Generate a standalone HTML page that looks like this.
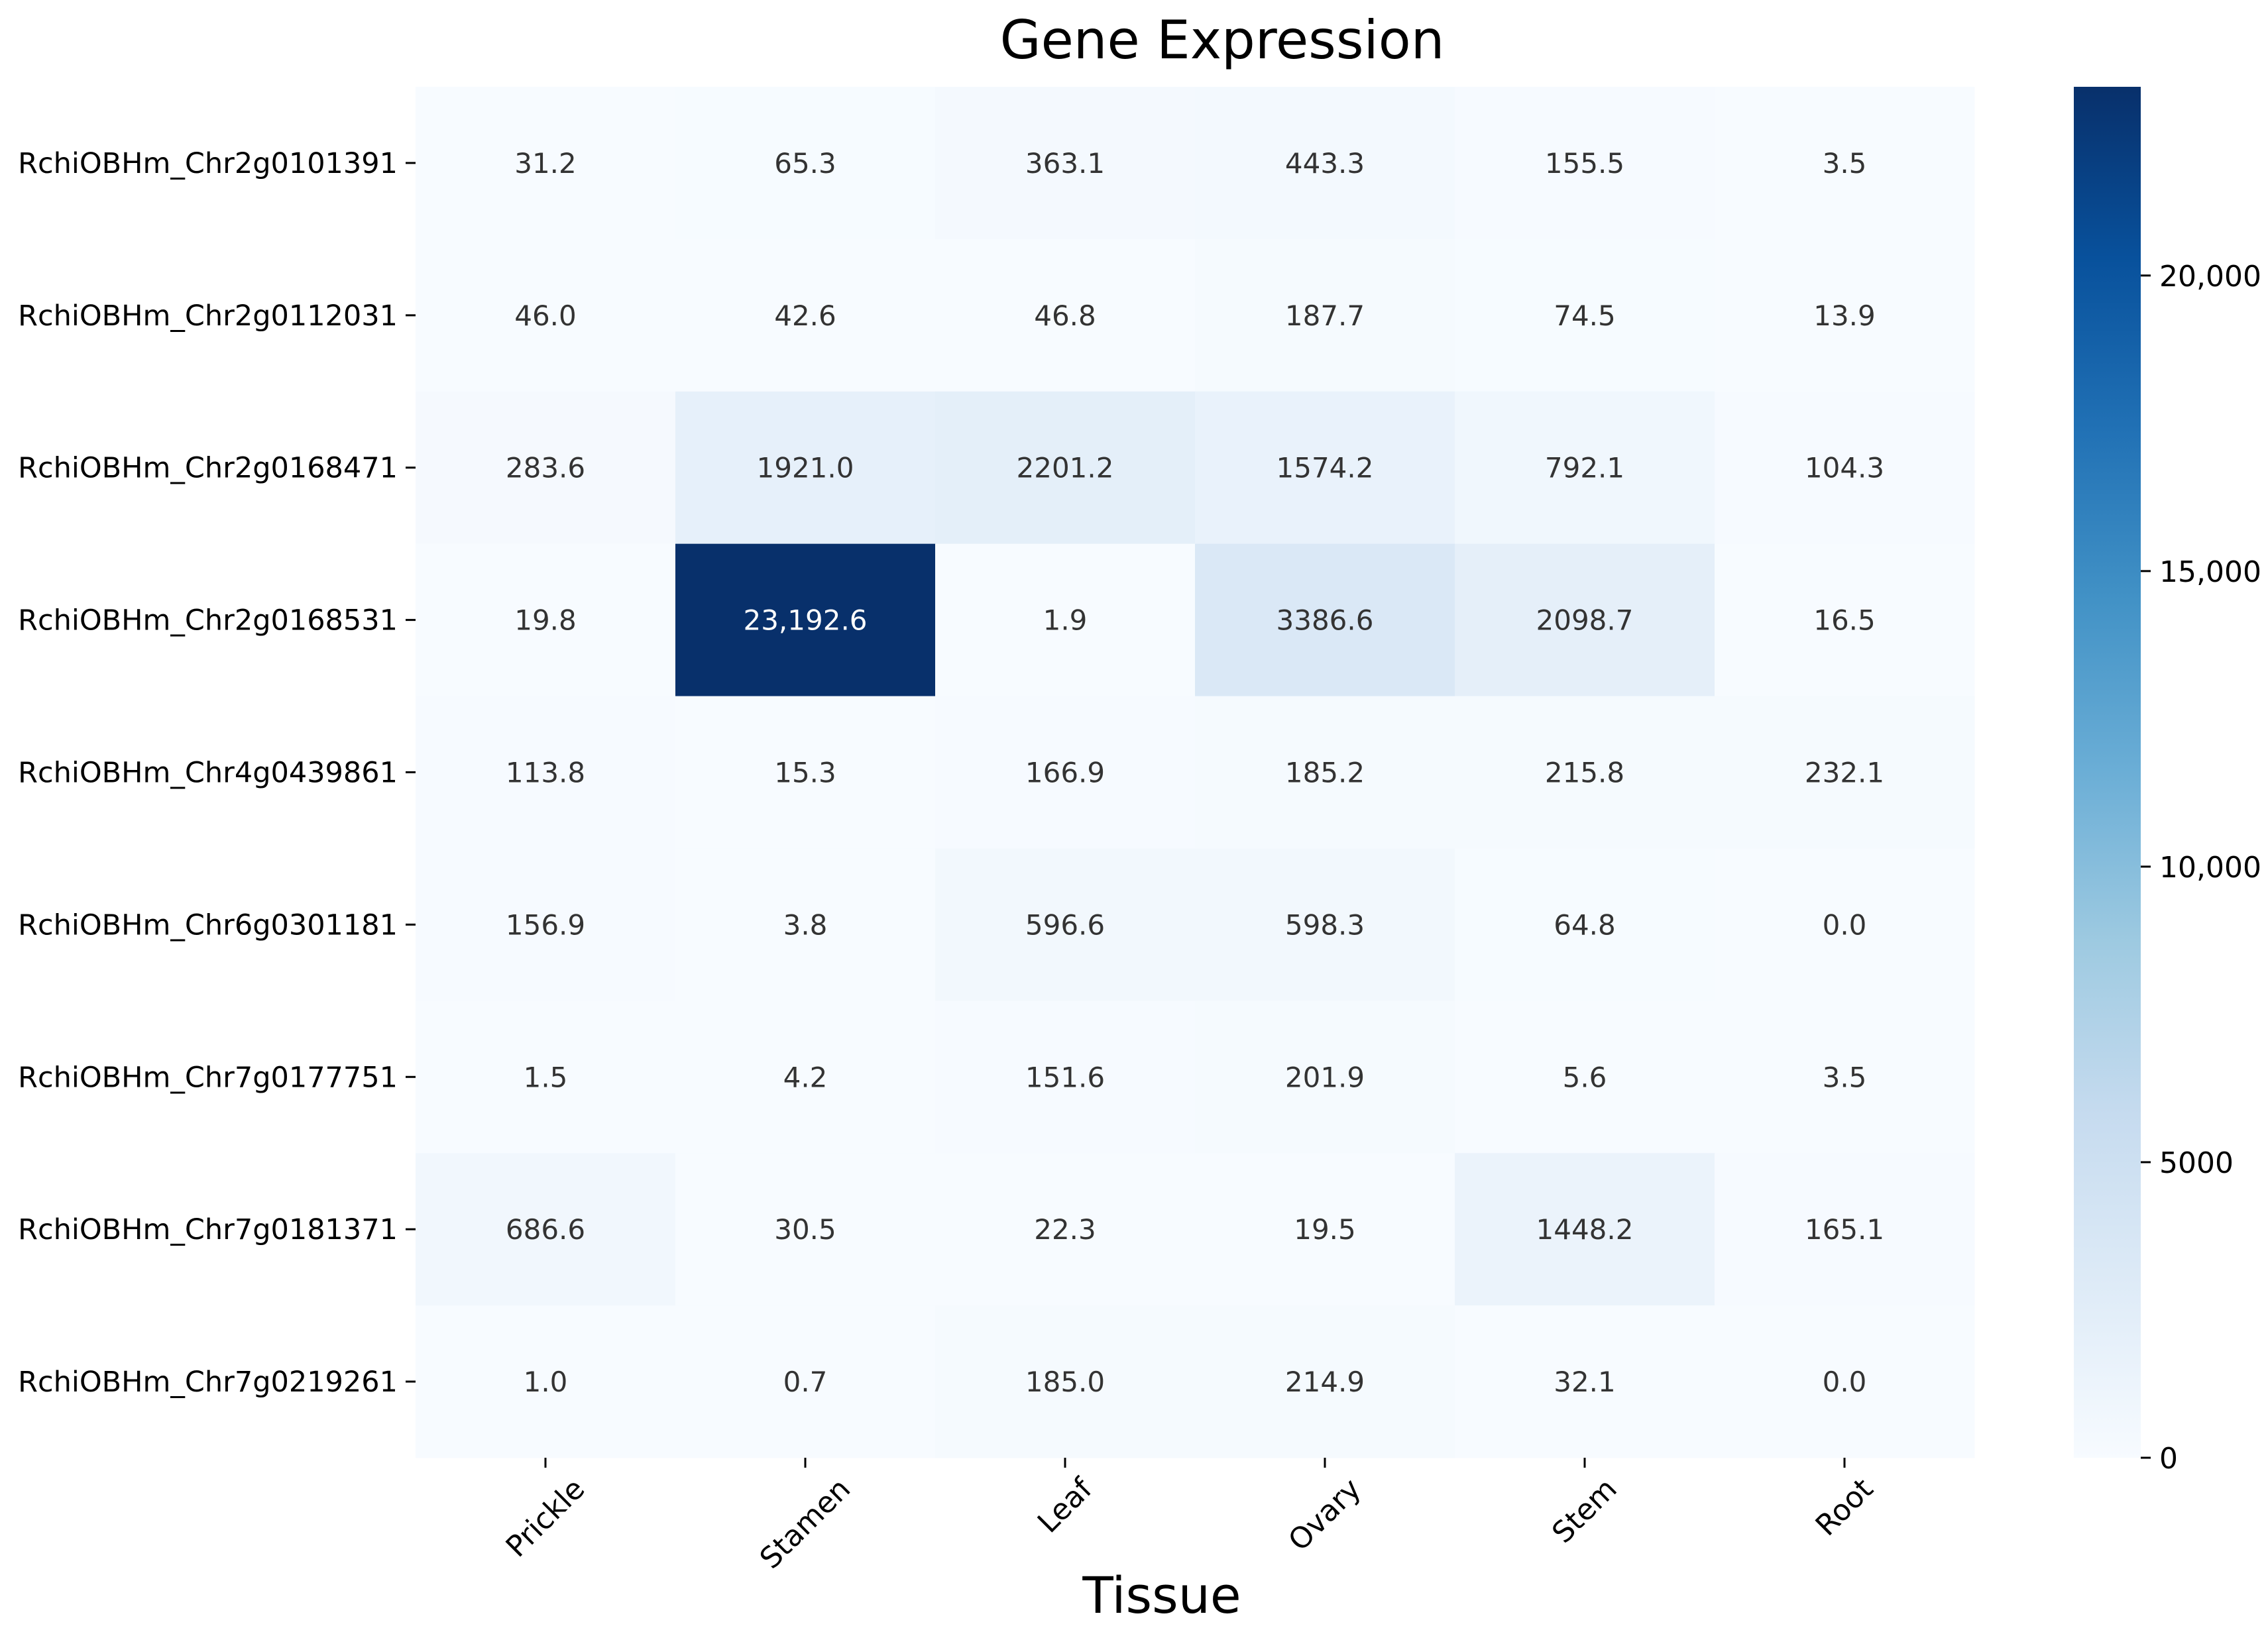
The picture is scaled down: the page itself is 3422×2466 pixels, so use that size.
<!DOCTYPE html>
<html><head><meta charset="utf-8"><style>
html,body{margin:0;padding:0;background:#fff;}
svg{display:block;font-family:"DejaVu Sans","Liberation Sans",sans-serif;}
</style></head><body>
<svg id="chart" width="3422" height="2466" viewBox="0 0 3422 2466" xmlns="http://www.w3.org/2000/svg">
<defs>
<linearGradient id="blues" x1="0" y1="1" x2="0" y2="0">
<stop offset="0" stop-color="#f7fbff"/><stop offset="0.125" stop-color="#deebf7"/><stop offset="0.25" stop-color="#c6dbef"/><stop offset="0.375" stop-color="#9ecae1"/><stop offset="0.5" stop-color="#6baed6"/><stop offset="0.625" stop-color="#4292c6"/><stop offset="0.75" stop-color="#2171b5"/><stop offset="0.875" stop-color="#08519c"/><stop offset="1" stop-color="#08306b"/>
</linearGradient>
</defs>
<text x="1844" y="88" font-size="80" text-anchor="middle" fill="#000">Gene Expression</text>
<text x="1753" y="2434" font-size="76" text-anchor="middle" fill="#000">Tissue</text>
<g id="cells"></g>
<g id="xaxis"></g>
<g id="yaxis"></g>
<rect x="3129" y="131" width="101" height="2069" fill="url(#blues)"/>
<g id="cbar"></g>
</svg>
<script>
const tissues = ["Prickle","Stamen","Leaf","Ovary","Stem","Root"];
const genes = ["RchiOBHm_Chr2g0101391","RchiOBHm_Chr2g0112031","RchiOBHm_Chr2g0168471","RchiOBHm_Chr2g0168531","RchiOBHm_Chr4g0439861","RchiOBHm_Chr6g0301181","RchiOBHm_Chr7g0177751","RchiOBHm_Chr7g0181371","RchiOBHm_Chr7g0219261"];
const row0 = [31.2,65.3,363.1,443.3,155.5,3.5];
const row1 = [46.0,42.6,46.8,187.7,74.5,13.9];
const row2 = [283.6,1921.0,2201.2,1574.2,792.1,104.3];
const row3 = [19.8,23192.6,1.9,3386.6,2098.7,16.5];
const row4 = [113.8,15.3,166.9,185.2,215.8,232.1];
const row5 = [156.9,3.8,596.6,598.3,64.8,0.0];
const row6 = [1.5,4.2,151.6,201.9,5.6,3.5];
const row7 = [686.6,30.5,22.3,19.5,1448.2,165.1];
const row8 = [1.0,0.7,185.0,214.9,32.1,0.0];
const values = [row0,row1,row2,row3,row4,row5,row6,row7,row8];
const cbarTicks = [0,5000,10000,15000,20000];
const cbarLabels = ["0","5000","10,000","15,000","20,000"];

const NS="http://www.w3.org/2000/svg";
const L=627,R=2979,T=131,B=2200;
const vmin=0, vmax=Math.max(...values.flat());
const cw=(R-L)/tissues.length, ch=(B-T)/genes.length;
const xPos=i=>L+cw*i, yPos=j=>T+ch*j;
const cbY=v=>B-(v-vmin)/(vmax-vmin)*(B-T);
const stops=["#f7fbff","#deebf7","#c6dbef","#9ecae1","#6baed6","#4292c6","#2171b5","#08519c","#08306b"].map(h=>[parseInt(h.slice(1,3),16),parseInt(h.slice(3,5),16),parseInt(h.slice(5,7),16)]);
function color(v){let t=Math.max(0,Math.min(1,(v-vmin)/(vmax-vmin)))*(stops.length-1);let i=Math.min(Math.floor(t),stops.length-2),f=t-i;const c=stops[i].map((a,k)=>Math.round(a+(stops[i+1][k]-a)*f));return {css:`rgb(${c})`,lum:(0.299*c[0]+0.587*c[1]+0.114*c[2])/255};}
function fmt(v){return v>=10000?v.toLocaleString("en-US",{minimumFractionDigits:1,maximumFractionDigits:1}):v.toFixed(1);}
function mk(tag,attrs,parent){const e=document.createElementNS(NS,tag);for(const k in attrs)e.setAttribute(k,attrs[k]);parent.appendChild(e);return e;}
const cells=document.getElementById("cells");
values.forEach((row,j)=>row.forEach((v,i)=>{
  const c=color(v);
  const r=mk("rect",{x:xPos(i),y:yPos(j),width:cw+0.5,height:ch+0.5,fill:c.css},cells);
  
  
  const t=mk("text",{x:xPos(i)+cw/2,y:yPos(j)+ch/2+15,"font-size":42,"text-anchor":"middle",fill:c.lum<0.5?"#ffffff":"#333333"},cells);
  
  
  t.textContent=fmt(v);
}));
const xa=document.getElementById("xaxis");
tissues.forEach((name,i)=>{
  const x=xPos(i)+cw/2;
  const tk=mk("line",{x1:x,y1:B,x2:x,y2:B+15,stroke:"#000","stroke-width":3},xa);
  
  
  const t=mk("text",{x:x,y:0,"font-size":44,"text-anchor":"middle","dominant-baseline":"central",fill:"#000"},xa);
  
  
  t.textContent=name;
  const w=t.getComputedTextLength();
  const cy=B+24+(w+44)*0.7071/2;
  t.setAttribute("y",cy);
  t.setAttribute("transform",`rotate(-45 ${x} ${cy})`);
});
const ya=document.getElementById("yaxis");
genes.forEach((name,j)=>{
  const y=yPos(j)+ch/2;
  const tk=mk("line",{x1:L-15,y1:y,x2:L,y2:y,stroke:"#000","stroke-width":3},ya);
  
  
  const t=mk("text",{x:L-27,y:y+15,"font-size":43,"text-anchor":"end",fill:"#000"},ya);
  
  
  t.textContent=name;
});
const cb=document.getElementById("cbar");
cbarTicks.forEach((v,k)=>{
  const y=cbY(v);
  const tk=mk("line",{x1:3230,y1:y,x2:3245,y2:y,stroke:"#000","stroke-width":3},cb);
  
  
  const t=mk("text",{x:3258,y:y+16,"font-size":44,fill:"#000"},cb);
  
  
  t.textContent=cbarLabels[k];
});
</script>
</body></html>
